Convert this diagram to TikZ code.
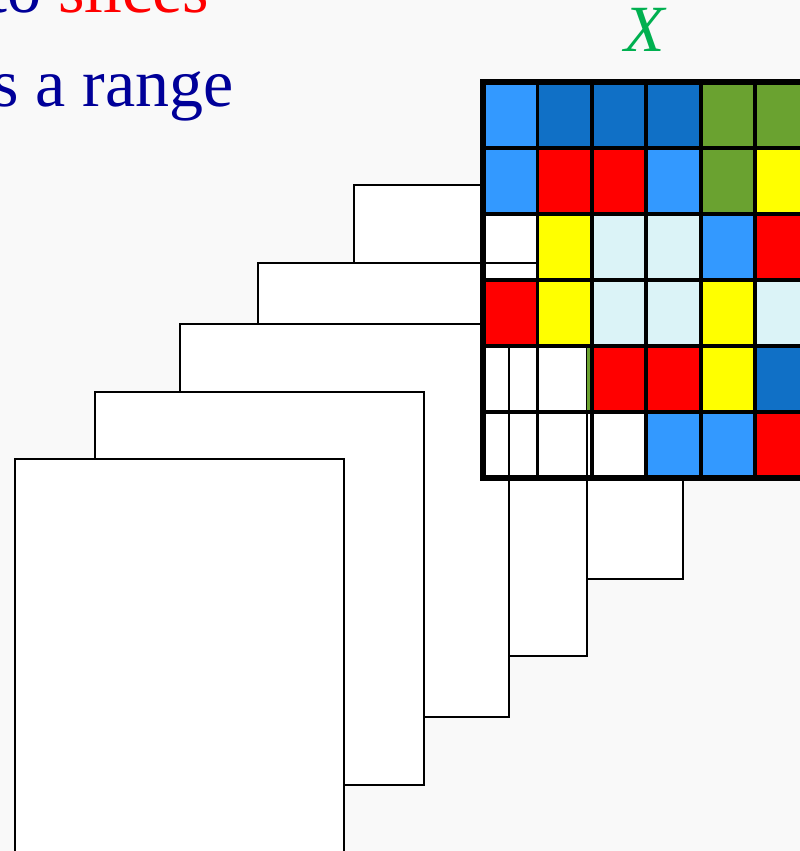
\documentclass[tikz,border=0pt]{standalone}
\usepackage{fontspec}
\setmainfont{Liberation Serif}
\usetikzlibrary{positioning,calc}
\definecolor{txtblue}{RGB}{0,0,153}
\definecolor{txtred}{RGB}{255,0,0}
\definecolor{txtgreen}{RGB}{0,176,80}
\definecolor{bgclr}{RGB}{249,249,249}
\definecolor{lblue}{RGB}{51,153,255}
\definecolor{dblue}{RGB}{16,112,198}
\definecolor{cgreen}{RGB}{106,162,48}
\definecolor{cred}{RGB}{255,0,0}
\definecolor{cyell}{RGB}{255,255,0}
\definecolor{cpale}{RGB}{219,243,247}
\tikzset{
  sheet/.style={rectangle,draw=black,fill=white,line width=2pt,
    minimum width=329pt,minimum height=393.5pt,inner sep=0pt,anchor=north west},
  gline/.style={line width=3.8pt,draw=black},
  gframe/.style={line width=6pt,draw=black},
  bigtxt/.style={inner sep=0pt,font=\fontsize{68}{80}\selectfont,text=txtblue},
}
\begin{document}
\begin{tikzpicture}[x=1pt,y=-1pt]
  \useasboundingbox (0,0) rectangle (800,851);
  \clip (0,0) rectangle (800,851);
  \fill[bgclr] (0,0) rectangle (800,851);

  \node[bigtxt,anchor=base west] (line1) at (-12,13) {to {\color{txtred}slices}};
  \node[bigtxt,anchor=base west] (line2) at (-8,106) {s a range};

  \node[sheet] (s1) at (352.7,184) {};
  \node[sheet] (s2) at (256.7,261.7) {};
  \node[sheet] (s3) at (179.3,322.7) {};
  \node[sheet] (s4) at (94,390.7) {};
  \node[sheet] (s5) at (14,457.5) {};

  \coordinate (grid) at (483,82);
  \foreach \cl [count=\r] in {{lblue,dblue,dblue,dblue,cgreen,cgreen},
      {lblue,cred,cred,lblue,cgreen,cyell},{none,cyell,cpale,cpale,lblue,cred},
      {cred,cyell,cpale,cpale,cyell,cpale},{none,none,cred,cred,cyell,dblue},
      {none,none,none,lblue,lblue,cred}}
    \foreach \c [count=\k] in \cl
      \path[fill=\c] ($(grid)+({(\k-1)*54.4},{(\r-1)*66})$) rectangle ++(54.4,66);
  \fill[cgreen] (587,345) rectangle (592.7,411.5);

  \foreach \i in {1,...,5} {
    \draw[gline] ($(grid)+({\i*54.4},0)$) -- ++(0,396);
    \draw[gline] ($(grid)+(0,{\i*66})$) -- ++(326.4,0);
  }
  \draw[gframe] (grid) rectangle ++(326.4,396);

  \node[inner sep=0pt,font=\fontsize{66}{78}\selectfont\itshape,
    text=txtgreen,above=30pt of grid,xshift=162pt,anchor=base] (xlbl) {X};
\end{tikzpicture}
\end{document}
